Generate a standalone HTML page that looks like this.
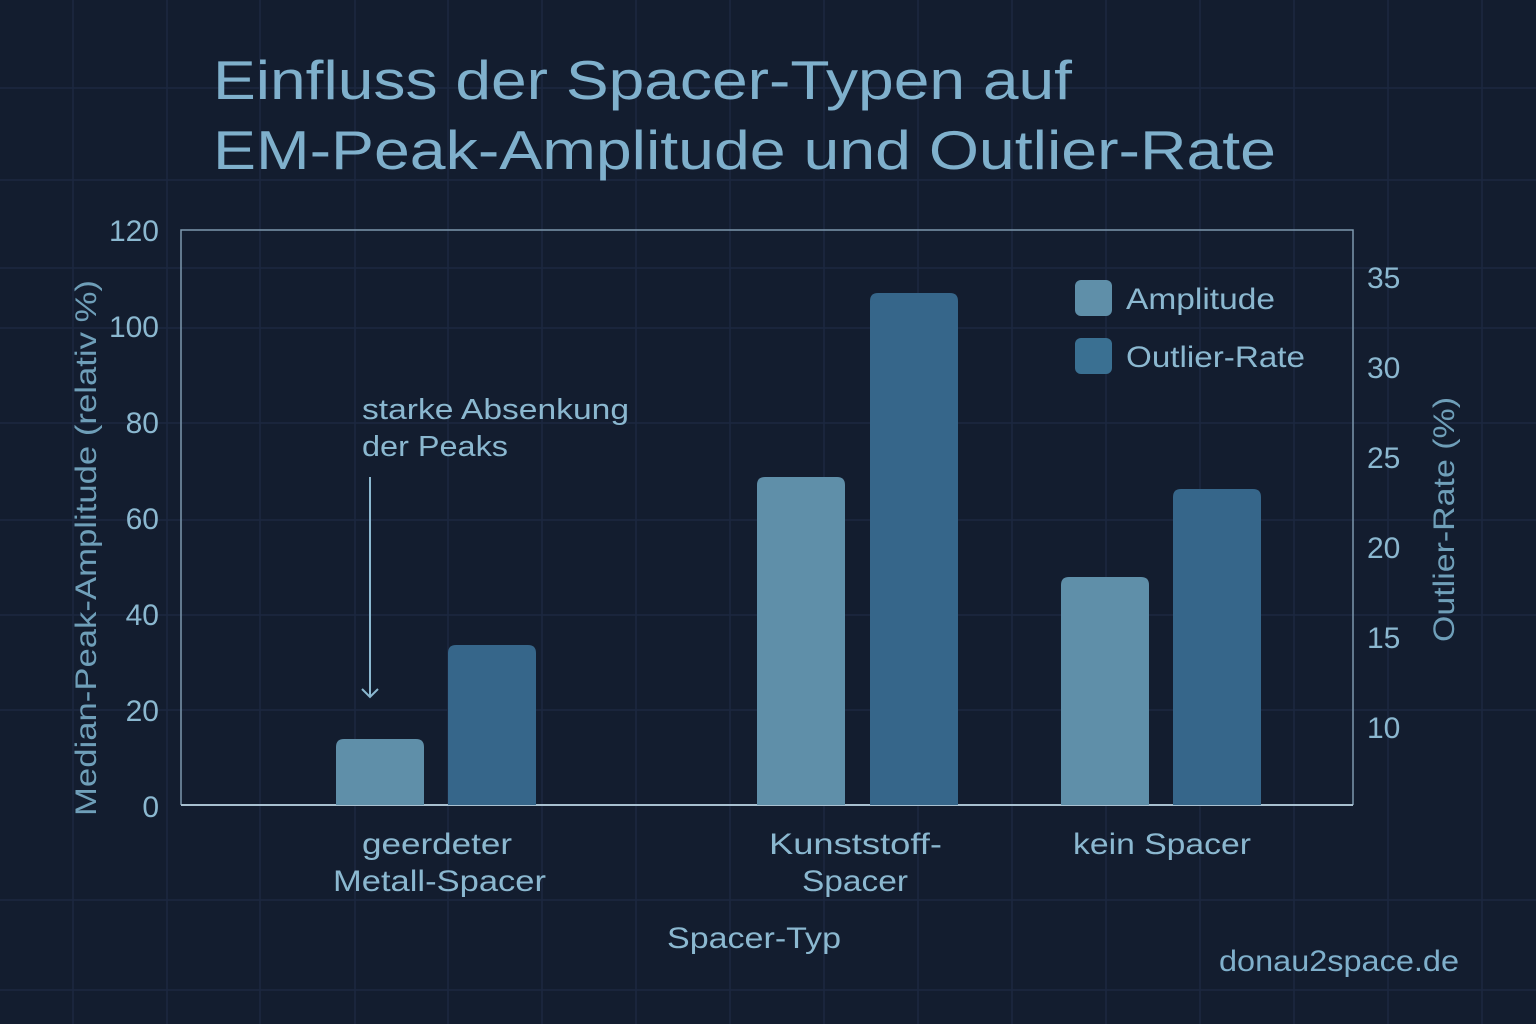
<!DOCTYPE html>
<html><head><meta charset="utf-8"><style>
html,body{margin:0;padding:0;background:#131d2f;}
svg{display:block}
text{font-family:"Liberation Sans","DejaVu Sans",sans-serif;}
</style></head><body>
<svg width="1536" height="1024" viewBox="0 0 1536 1024" xmlns="http://www.w3.org/2000/svg">
<rect width="1536" height="1024" fill="#131d2f"/>
<g stroke="#1c2840" stroke-width="1.5">
<line x1="73" y1="0" x2="73" y2="1024"/><line x1="167" y1="0" x2="167" y2="1024"/><line x1="260" y1="0" x2="260" y2="1024"/><line x1="355" y1="0" x2="355" y2="1024"/><line x1="448" y1="0" x2="448" y2="1024"/><line x1="542" y1="0" x2="542" y2="1024"/><line x1="636" y1="0" x2="636" y2="1024"/><line x1="730" y1="0" x2="730" y2="1024"/><line x1="824" y1="0" x2="824" y2="1024"/><line x1="918" y1="0" x2="918" y2="1024"/><line x1="1012" y1="0" x2="1012" y2="1024"/><line x1="1106" y1="0" x2="1106" y2="1024"/><line x1="1200" y1="0" x2="1200" y2="1024"/><line x1="1294" y1="0" x2="1294" y2="1024"/><line x1="1388" y1="0" x2="1388" y2="1024"/><line x1="1482" y1="0" x2="1482" y2="1024"/>
<line x1="0" y1="88" x2="1536" y2="88"/><line x1="0" y1="180" x2="1536" y2="180"/><line x1="0" y1="268" x2="1536" y2="268"/><line x1="0" y1="328" x2="1536" y2="328"/><line x1="0" y1="423" x2="1536" y2="423"/><line x1="0" y1="520" x2="1536" y2="520"/><line x1="0" y1="615" x2="1536" y2="615"/><line x1="0" y1="710" x2="1536" y2="710"/><line x1="0" y1="900" x2="1536" y2="900"/><line x1="0" y1="990" x2="1536" y2="990"/>
</g>
<text x="213" y="99" font-size="55" fill="#7fb0cc" textLength="859" lengthAdjust="spacingAndGlyphs">Einfluss der Spacer-Typen auf</text>
<text x="213" y="169" font-size="55" fill="#7fb0cc" textLength="1063" lengthAdjust="spacingAndGlyphs">EM-Peak-Amplitude und Outlier-Rate</text>
<polyline points="181,805 181,230 1353,230 1353,805" fill="none" stroke="#7c98ad" stroke-width="1.5"/>
<line x1="181" y1="805" x2="1353" y2="805" stroke="#a8c0d0" stroke-width="2"/>
<g font-size="30" fill="#8bb8d0" text-anchor="end">
<text x="159" y="241">120</text><text x="159" y="337">100</text><text x="159" y="433">80</text><text x="159" y="529">60</text><text x="159" y="625">40</text><text x="159" y="721">20</text><text x="159" y="817">0</text>
</g>
<g font-size="30" fill="#8bb8d0" text-anchor="start">
<text x="1367" y="288">35</text><text x="1367" y="378">30</text><text x="1367" y="468">25</text><text x="1367" y="558">20</text><text x="1367" y="648">15</text><text x="1367" y="738">10</text>
</g>
<text transform="translate(96,816) rotate(-90)" font-size="30" fill="#6f9fb9" textLength="536" lengthAdjust="spacingAndGlyphs">Median-Peak-Amplitude (relativ %)</text>
<text transform="translate(1454,642) rotate(-90)" font-size="30" fill="#6f9fb9" textLength="245" lengthAdjust="spacingAndGlyphs">Outlier-Rate (%)</text>
<path d="M336,805 V747 Q336,739 344,739 H416 Q424,739 424,747 V805 Z" fill="#5f8fa9"/>
<path d="M448,805 V653 Q448,645 456,645 H528 Q536,645 536,653 V805 Z" fill="#36668a"/>
<path d="M757,805 V485 Q757,477 765,477 H837 Q845,477 845,485 V805 Z" fill="#5f8fa9"/>
<path d="M870,805 V301 Q870,293 878,293 H950 Q958,293 958,301 V805 Z" fill="#36668a"/>
<path d="M1061,805 V585 Q1061,577 1069,577 H1141 Q1149,577 1149,585 V805 Z" fill="#5f8fa9"/>
<path d="M1173,805 V497 Q1173,489 1181,489 H1253 Q1261,489 1261,497 V805 Z" fill="#36668a"/>
<rect x="1075" y="280" width="37" height="36" rx="6" fill="#5f8fa9"/>
<rect x="1075" y="338" width="37" height="36" rx="6" fill="#3a7092"/>
<text x="1126" y="309" font-size="30" fill="#8bb8d0" textLength="149" lengthAdjust="spacingAndGlyphs">Amplitude</text>
<text x="1126" y="367" font-size="30" fill="#8bb8d0" textLength="179" lengthAdjust="spacingAndGlyphs">Outlier-Rate</text>
<text x="362" y="419" font-size="29" fill="#8bb8d0" textLength="267" lengthAdjust="spacingAndGlyphs">starke Absenkung</text>
<text x="362" y="456" font-size="29" fill="#8bb8d0" textLength="146" lengthAdjust="spacingAndGlyphs">der Peaks</text>
<line x1="370" y1="477" x2="370" y2="697" stroke="#8bb8d0" stroke-width="2"/>
<polyline points="362,689 370,697 378,689" fill="none" stroke="#8bb8d0" stroke-width="2"/>
<g font-size="30" fill="#8bb8d0">
<text x="362" y="854" textLength="150" lengthAdjust="spacingAndGlyphs">geerdeter</text>
<text x="333" y="891" textLength="213" lengthAdjust="spacingAndGlyphs">Metall-Spacer</text>
<text x="769" y="854" textLength="173" lengthAdjust="spacingAndGlyphs">Kunststoff-</text>
<text x="802" y="891" textLength="106" lengthAdjust="spacingAndGlyphs">Spacer</text>
<text x="1073" y="854" textLength="178" lengthAdjust="spacingAndGlyphs">kein Spacer</text>
<text x="667" y="948" textLength="174" lengthAdjust="spacingAndGlyphs">Spacer-Typ</text>
</g>
<text x="1219" y="971" font-size="30" fill="#7fb0cc" textLength="240" lengthAdjust="spacingAndGlyphs">donau2space.de</text>
</svg>
</body></html>
